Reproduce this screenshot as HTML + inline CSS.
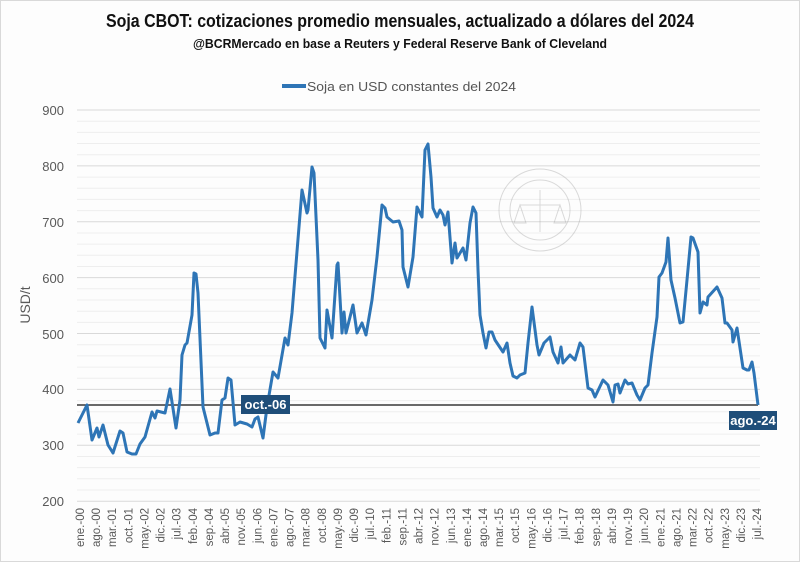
<!DOCTYPE html>
<html><head><meta charset="utf-8"><style>
html,body{margin:0;padding:0;background:#fff}
svg{display:block}
</style></head><body>
<svg width="800" height="562" viewBox="0 0 800 562" xmlns="http://www.w3.org/2000/svg" font-family="'Liberation Sans Narrow','Liberation Sans',sans-serif">
<rect x="0" y="0" width="800" height="562" fill="#fdfdfd"/>
<rect x="0.5" y="0.5" width="799" height="561" fill="none" stroke="#d9d9d9"/>
<text x="400" y="27" text-anchor="middle" font-size="18" font-weight="bold" fill="#111" textLength="588" lengthAdjust="spacingAndGlyphs">Soja CBOT: cotizaciones promedio mensuales, actualizado a dólares del 2024</text>
<text x="400" y="48" text-anchor="middle" font-size="13" font-weight="bold" fill="#111" textLength="414" lengthAdjust="spacingAndGlyphs">@BCRMercado en base a Reuters y Federal Reserve Bank of Cleveland</text>
<line x1="282" y1="86" x2="306" y2="86" stroke="#2e75b6" stroke-width="4"/>
<text x="307" y="91" font-size="13" fill="#555" textLength="209" lengthAdjust="spacingAndGlyphs">Soja en USD constantes del 2024</text>
<g stroke="#eeeeee" stroke-width="1">
<line x1="77" y1="121.2" x2="760" y2="121.2"/><line x1="77" y1="132.4" x2="760" y2="132.4"/><line x1="77" y1="143.5" x2="760" y2="143.5"/><line x1="77" y1="154.7" x2="760" y2="154.7"/>
<line x1="77" y1="177.1" x2="760" y2="177.1"/><line x1="77" y1="188.2" x2="760" y2="188.2"/><line x1="77" y1="199.4" x2="760" y2="199.4"/><line x1="77" y1="210.6" x2="760" y2="210.6"/>
<line x1="77" y1="233" x2="760" y2="233"/><line x1="77" y1="244.1" x2="760" y2="244.1"/><line x1="77" y1="255.3" x2="760" y2="255.3"/><line x1="77" y1="266.5" x2="760" y2="266.5"/>
<line x1="77" y1="288.8" x2="760" y2="288.8"/><line x1="77" y1="300" x2="760" y2="300"/><line x1="77" y1="311.2" x2="760" y2="311.2"/><line x1="77" y1="322.4" x2="760" y2="322.4"/>
<line x1="77" y1="344.7" x2="760" y2="344.7"/><line x1="77" y1="355.9" x2="760" y2="355.9"/><line x1="77" y1="367.1" x2="760" y2="367.1"/><line x1="77" y1="378.2" x2="760" y2="378.2"/>
<line x1="77" y1="400.6" x2="760" y2="400.6"/><line x1="77" y1="411.8" x2="760" y2="411.8"/><line x1="77" y1="422.9" x2="760" y2="422.9"/><line x1="77" y1="434.1" x2="760" y2="434.1"/>
<line x1="77" y1="456.5" x2="760" y2="456.5"/><line x1="77" y1="467.6" x2="760" y2="467.6"/><line x1="77" y1="478.8" x2="760" y2="478.8"/><line x1="77" y1="490" x2="760" y2="490"/>
</g>
<g stroke="#d9d9d9" stroke-width="1">
<line x1="77" y1="110" x2="760" y2="110"/><line x1="77" y1="165.9" x2="760" y2="165.9"/><line x1="77" y1="221.8" x2="760" y2="221.8"/><line x1="77" y1="277.6" x2="760" y2="277.6"/><line x1="77" y1="333.5" x2="760" y2="333.5"/><line x1="77" y1="389.4" x2="760" y2="389.4"/><line x1="77" y1="445.3" x2="760" y2="445.3"/><line x1="77" y1="501.2" x2="760" y2="501.2"/>
</g>
<g font-size="13" fill="#595959" text-anchor="end" font-family="'Liberation Sans',sans-serif">
<text x="64" y="115">900</text><text x="64" y="171">800</text><text x="64" y="227">700</text><text x="64" y="283">600</text><text x="64" y="339">500</text><text x="64" y="394">400</text><text x="64" y="450">300</text><text x="64" y="506">200</text>
</g>
<text transform="translate(30,305) rotate(-90)" text-anchor="middle" font-size="14" fill="#595959" font-family="'Liberation Sans',sans-serif">USD/t</text>
<g opacity="0.35" fill="none" stroke="#999">
<circle cx="540" cy="210" r="41"/><circle cx="540" cy="210" r="30"/>
<line x1="520" y1="205" x2="560" y2="205"/><line x1="540" y1="190" x2="540" y2="232"/>
<path d="M520 205 l-6 18 h12 z M560 205 l-6 18 h12 z"/>
</g>
<g font-size="11" fill="#595959" font-family="'Liberation Sans',sans-serif" text-anchor="end" id="xl"></g>
<line x1="77" y1="405" x2="758" y2="405" stroke="#111" stroke-width="1.3"/>
<polyline fill="none" stroke="#2e75b6" stroke-width="3" stroke-linejoin="round" points="78,423 87,405 92,440 97,428 99,437 103,425 108,445 113,453 120,431 123,433 127,452 132,454 136,454 140,444 145,437 152,412 155,418 157,411 165,413 170,389 176,428 180,400 182,355 185,345 187,343 192,315 194,273 196,274 198,293 203,407 210,435 215,433 218,433 222,400 225,398 228,378 231,380 235,425 240,422 247,424 252,427 255,419 258,417 263,438 267,407 273,372 278,378 285,338 288,345 292,313 302,190 307,213 308,210 312,167 314,173 318,260 320,338 325,348 327,310 332,338 337,265 338,263 342,333 344,312 346,333 353,305 357,333 362,323 366,335 372,300 377,257 382,205 385,208 387,217 393,222 399,221 402,230 403,267 408,287 413,257 417,207 422,217 425,150 428,144 431,177 433,208 437,217 440,210 443,215 445,225 448,212 452,263 455,243 457,258 463,248 466,260 470,223 473,207 476,213 478,270 480,315 483,333 486,348 489,332 492,332 495,340 503,352 507,343 510,363 513,376 517,378 520,375 525,373 528,343 532,307 537,345 539,355 544,343 550,337 553,352 558,363 561,347 563,363 570,355 575,360 580,343 583,347 588,388 592,390 595,397 603,380 608,385 613,402 615,385 618,384 620,393 625,380 628,384 632,383 637,395 640,400 645,388 648,385 652,353 657,317 659,277 662,273 666,262 668,238 671,280 675,298 680,323 683,322 687,280 691,237 693,238 698,252 700,313 703,302 707,305 708,297 717,287 722,298 725,323 727,323 732,330 733,342 737,328 743,368 747,370 749,370 752,362 754,373 758,405"/>
<rect x="241" y="395" width="49" height="19" fill="#1f4e79"/>
<text x="265.5" y="409" text-anchor="middle" font-size="13" font-weight="bold" fill="#fff" font-family="'Liberation Sans',sans-serif">oct.-06</text>
<rect x="729" y="411" width="48" height="19" fill="#1f4e79"/>
<text x="753" y="425" text-anchor="middle" font-size="13" font-weight="bold" fill="#fff" font-family="'Liberation Sans',sans-serif">ago.-24</text>
<g font-size="11.5" fill="#595959" font-family="'Liberation Sans',sans-serif" text-anchor="end">
<text transform="translate(84,508) rotate(-90)">ene.-00</text>
<text transform="translate(100.1,508) rotate(-90)">ago.-00</text>
<text transform="translate(116.2,508) rotate(-90)">mar.-01</text>
<text transform="translate(132.4,508) rotate(-90)">oct.-01</text>
<text transform="translate(148.5,508) rotate(-90)">may.-02</text>
<text transform="translate(164.6,508) rotate(-90)">dic.-02</text>
<text transform="translate(180.7,508) rotate(-90)">jul.-03</text>
<text transform="translate(196.8,508) rotate(-90)">feb.-04</text>
<text transform="translate(213,508) rotate(-90)">sep.-04</text>
<text transform="translate(229.1,508) rotate(-90)">abr.-05</text>
<text transform="translate(245.2,508) rotate(-90)">nov.-05</text>
<text transform="translate(261.3,508) rotate(-90)">jun.-06</text>
<text transform="translate(277.4,508) rotate(-90)">ene.-07</text>
<text transform="translate(293.6,508) rotate(-90)">ago.-07</text>
<text transform="translate(309.7,508) rotate(-90)">mar.-08</text>
<text transform="translate(325.8,508) rotate(-90)">oct.-08</text>
<text transform="translate(341.9,508) rotate(-90)">may.-09</text>
<text transform="translate(358,508) rotate(-90)">dic.-09</text>
<text transform="translate(374.2,508) rotate(-90)">jul.-10</text>
<text transform="translate(390.3,508) rotate(-90)">feb.-11</text>
<text transform="translate(406.4,508) rotate(-90)">sep.-11</text>
<text transform="translate(422.5,508) rotate(-90)">abr.-12</text>
<text transform="translate(438.6,508) rotate(-90)">nov.-12</text>
<text transform="translate(454.8,508) rotate(-90)">jun.-13</text>
<text transform="translate(470.9,508) rotate(-90)">ene.-14</text>
<text transform="translate(487,508) rotate(-90)">ago.-14</text>
<text transform="translate(503.1,508) rotate(-90)">mar.-15</text>
<text transform="translate(519.2,508) rotate(-90)">oct.-15</text>
<text transform="translate(535.4,508) rotate(-90)">may.-16</text>
<text transform="translate(551.5,508) rotate(-90)">dic.-16</text>
<text transform="translate(567.6,508) rotate(-90)">jul.-17</text>
<text transform="translate(583.7,508) rotate(-90)">feb.-18</text>
<text transform="translate(599.8,508) rotate(-90)">sep.-18</text>
<text transform="translate(616,508) rotate(-90)">abr.-19</text>
<text transform="translate(632.1,508) rotate(-90)">nov.-19</text>
<text transform="translate(648.2,508) rotate(-90)">jun.-20</text>
<text transform="translate(664.3,508) rotate(-90)">ene.-21</text>
<text transform="translate(680.4,508) rotate(-90)">ago.-21</text>
<text transform="translate(696.6,508) rotate(-90)">mar.-22</text>
<text transform="translate(712.7,508) rotate(-90)">oct.-22</text>
<text transform="translate(728.8,508) rotate(-90)">may.-23</text>
<text transform="translate(744.9,508) rotate(-90)">dic.-23</text>
<text transform="translate(761,508) rotate(-90)">jul.-24</text>
</g>
</svg>
</body></html>
